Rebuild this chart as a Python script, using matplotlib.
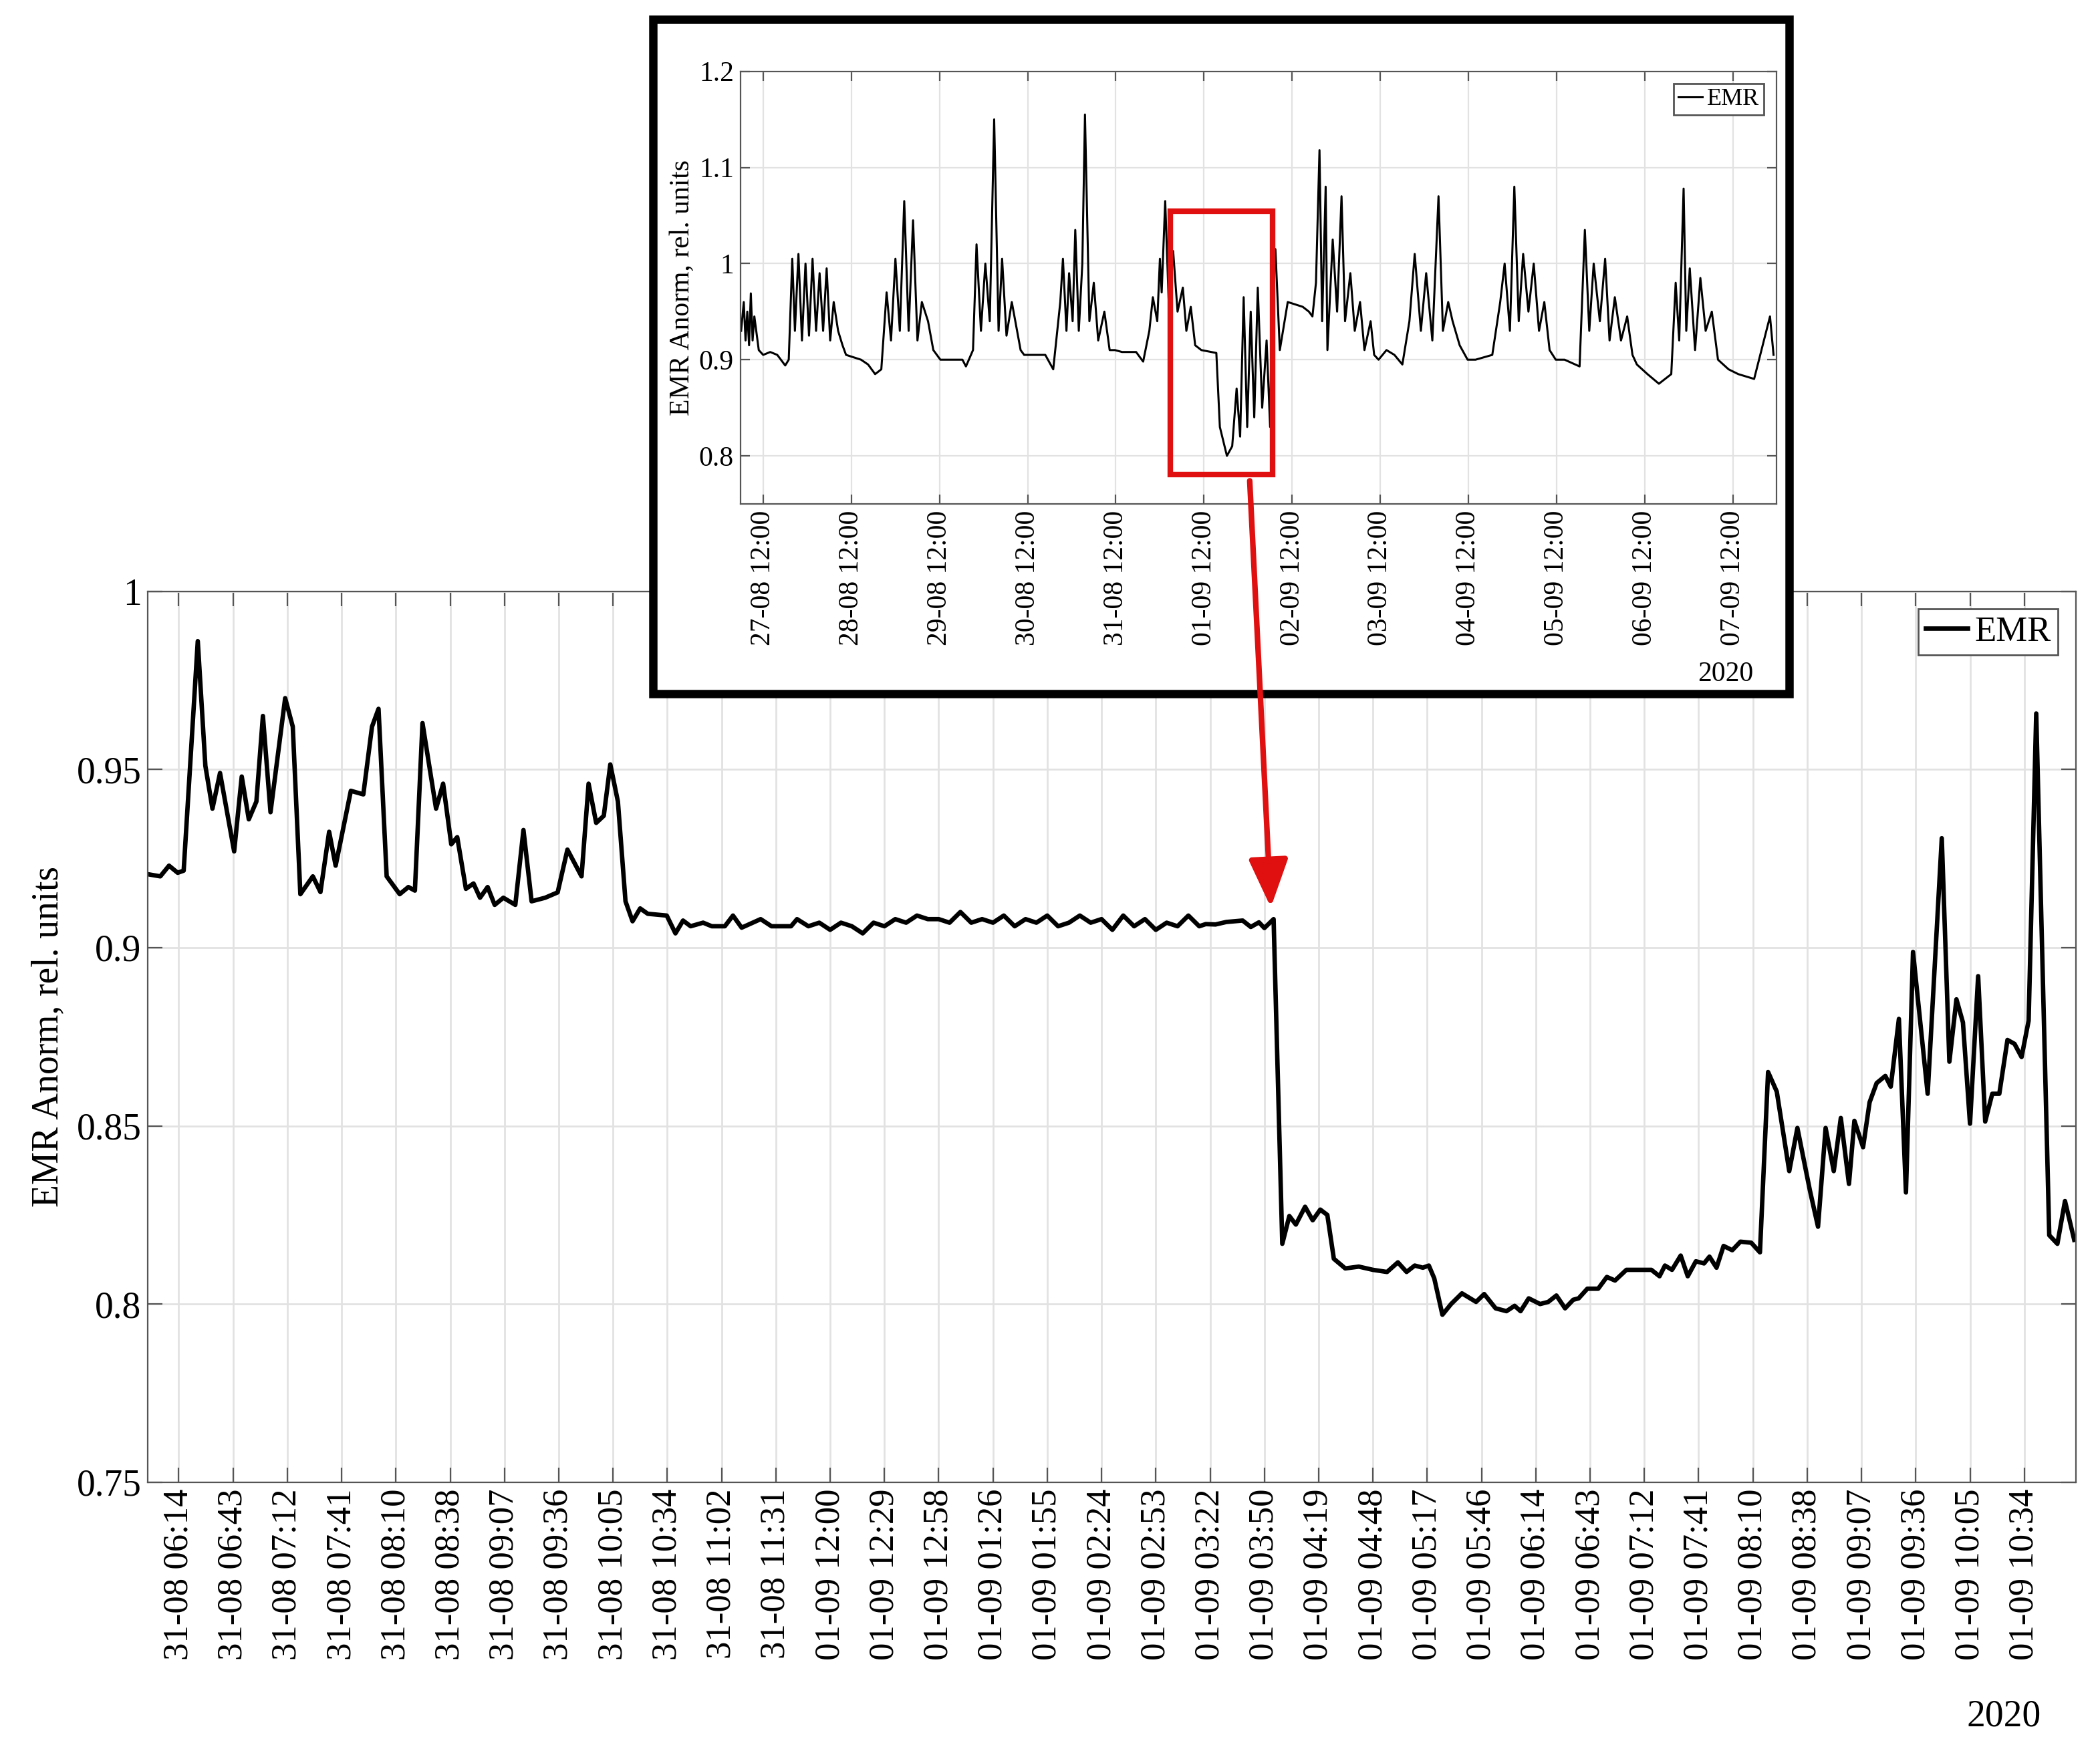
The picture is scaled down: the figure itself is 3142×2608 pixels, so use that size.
import numpy as np
import matplotlib.pyplot as plt
from matplotlib.patches import Rectangle, FancyArrowPatch

plt.rcParams['font.family'] = ['Liberation Serif', 'DejaVu Serif']

# Main panel: time in tick units (one unit = ~29 min), values in rel. units
main_u = [-0.57, -0.34, -0.18, -0.02, 0.09, 0.35, 0.49, 0.62, 0.76, 1.02, 1.16, 1.29, 1.43, 1.55,
          1.69, 1.96, 2.10, 2.24, 2.47, 2.61, 2.77, 2.89, 3.17, 3.40, 3.56, 3.68, 3.83, 4.07,
          4.23, 4.35, 4.49, 4.74, 4.87, 5.02, 5.13, 5.29, 5.43, 5.55, 5.69, 5.82, 5.98, 6.20,
          6.35, 6.50, 6.75, 6.98, 7.16, 7.42, 7.55, 7.69, 7.83, 7.95, 8.09, 8.23, 8.36, 8.50,
          8.64, 8.99, 9.15, 9.29, 9.43, 9.66, 9.82, 10.06, 10.21, 10.37, 10.72, 10.92, 11.28,
          11.39, 11.6, 11.8, 12.0, 12.2, 12.4, 12.6, 12.8, 13.0, 13.2, 13.4, 13.6, 13.8, 14.0,
          14.2, 14.4, 14.6, 14.8, 15.0, 15.2, 15.4, 15.6, 15.8, 16.0, 16.2, 16.4, 16.6, 16.8,
          17.0, 17.2, 17.4, 17.6, 17.8, 18.0, 18.2, 18.4, 18.6, 18.8, 18.92, 19.1, 19.3, 19.6,
          19.75, 19.9, 20.0, 20.17, 20.33, 20.46, 20.58, 20.75, 20.89, 21.03, 21.16, 21.28,
          21.49, 21.74, 22.0, 22.26, 22.46, 22.62, 22.77, 22.92, 23.03, 23.13, 23.28, 23.44,
          23.64, 23.9, 24.05, 24.26, 24.46, 24.61, 24.72, 24.87, 25.08, 25.23, 25.38, 25.54,
          25.69, 25.79, 25.95, 26.15, 26.31, 26.46, 26.67, 26.87, 27.13, 27.28, 27.38, 27.51,
          27.67, 27.8, 27.95, 28.1, 28.2, 28.33, 28.46, 28.62, 28.77, 28.97, 29.13, 29.28,
          29.44, 29.67, 29.82, 30.05, 30.2, 30.34, 30.49, 30.62, 30.77, 30.87, 31.03, 31.15,
          31.28, 31.44, 31.54, 31.69, 31.82, 31.95, 32.22, 32.48, 32.62, 32.75, 32.87, 33.0,
          33.15, 33.28, 33.41, 33.54, 33.69, 33.82, 33.95, 34.08, 34.22, 34.46, 34.61, 34.75,
          34.92]
main_y = [0.9206, 0.920, 0.923, 0.921, 0.9216, 0.986, 0.951, 0.939, 0.949, 0.927, 0.948, 0.936,
          0.941, 0.965, 0.938, 0.970, 0.962, 0.915, 0.920, 0.9156, 0.9325, 0.923, 0.944, 0.943,
          0.962, 0.967, 0.920, 0.915, 0.917, 0.916, 0.963, 0.939, 0.946, 0.929, 0.931, 0.9165,
          0.918, 0.914, 0.917, 0.912, 0.914, 0.912, 0.933, 0.913, 0.914, 0.9155, 0.9275, 0.920,
          0.946, 0.935, 0.937, 0.9514, 0.941, 0.913, 0.9074, 0.911, 0.9095, 0.909, 0.904,
          0.9076, 0.906, 0.907, 0.906, 0.906, 0.909, 0.9056, 0.908, 0.906, 0.906, 0.908,
          0.906, 0.907, 0.905, 0.907, 0.906, 0.904, 0.907, 0.906, 0.908, 0.907, 0.909, 0.908,
          0.908, 0.907, 0.910, 0.907, 0.908, 0.907, 0.909, 0.906, 0.908, 0.907, 0.909, 0.906,
          0.907, 0.909, 0.907, 0.908, 0.905, 0.909, 0.906, 0.908, 0.905, 0.907, 0.906, 0.909,
          0.906, 0.9066, 0.9065, 0.9072, 0.9076, 0.9058, 0.9071, 0.9055, 0.908, 0.8169, 0.8247,
          0.8223, 0.8273, 0.8235, 0.8265, 0.825, 0.8127, 0.810, 0.8105, 0.8096, 0.809, 0.8117,
          0.809, 0.8108, 0.8102, 0.8108, 0.8072, 0.797, 0.800, 0.803, 0.8006, 0.8028, 0.7988,
          0.798, 0.7995, 0.798, 0.8016, 0.800, 0.8006, 0.8024, 0.7988, 0.8012, 0.8016, 0.8043,
          0.8043, 0.8076, 0.8066, 0.8096, 0.8096, 0.8096, 0.8078, 0.8108, 0.8096, 0.8136,
          0.8078, 0.812, 0.8114, 0.8133, 0.8102, 0.8163, 0.8151, 0.8175, 0.8172, 0.8145,
          0.8651, 0.8596, 0.8373, 0.8494, 0.8319, 0.8217, 0.8494, 0.8373, 0.8522, 0.8337,
          0.8514, 0.844, 0.8566, 0.862, 0.864, 0.861, 0.880, 0.8313, 0.8988, 0.859, 0.9307,
          0.868, 0.8855, 0.879, 0.8506, 0.892, 0.8512, 0.859, 0.859, 0.8741, 0.873, 0.8693,
          0.8795, 0.9657, 0.8193, 0.8169, 0.8289, 0.818]

tick_labels = ['31-08 06:14', '31-08 06:43', '31-08 07:12', '31-08 07:41', '31-08 08:10',
               '31-08 08:38', '31-08 09:07', '31-08 09:36', '31-08 10:05', '31-08 10:34',
               '31-08 11:02', '31-08 11:31', '01-09 12:00', '01-09 12:29', '01-09 12:58',
               '01-09 01:26', '01-09 01:55', '01-09 02:24', '01-09 02:53', '01-09 03:22',
               '01-09 03:50', '01-09 04:19', '01-09 04:48', '01-09 05:17', '01-09 05:46',
               '01-09 06:14', '01-09 06:43', '01-09 07:12', '01-09 07:41', '01-09 08:10',
               '01-09 08:38', '01-09 09:07', '01-09 09:36', '01-09 10:05', '01-09 10:34']

# Inset: days since 27-08 12:00
inset_d = [-0.25, -0.22, -0.2, -0.18, -0.16, -0.14, -0.12, -0.1, -0.05, 0.0, 0.08, 0.16, 0.25,
           0.29, 0.33, 0.36, 0.4, 0.44, 0.48, 0.52, 0.56, 0.6, 0.64, 0.68, 0.72, 0.76, 0.8,
           0.85, 0.9, 0.94, 1.11, 1.19, 1.27, 1.34, 1.4, 1.45, 1.5, 1.55, 1.6, 1.65, 1.7, 1.75,
           1.8, 1.87, 1.93, 1.97, 2.01, 2.26, 2.3, 2.38, 2.42, 2.47, 2.52, 2.57, 2.62, 2.67,
           2.71, 2.76, 2.82, 2.88, 2.92, 2.96, 3.2, 3.29, 3.37, 3.4, 3.44, 3.47, 3.51, 3.54,
           3.58, 3.62, 3.65, 3.7, 3.75, 3.8, 3.87, 3.93, 3.99, 4.07, 4.23, 4.31, 4.38, 4.42,
           4.47, 4.5, 4.52, 4.56, 4.6, 4.65, 4.7, 4.76, 4.8, 4.85, 4.9, 4.97, 5.14, 5.18, 5.26,
           5.32, 5.37, 5.41, 5.45, 5.49, 5.53, 5.57, 5.61, 5.66, 5.71, 5.75, 5.77, 5.81, 5.86,
           5.95, 6.12, 6.19, 6.23, 6.27, 6.31, 6.34, 6.38, 6.40, 6.46, 6.51, 6.56, 6.60, 6.66,
           6.71, 6.77, 6.82, 6.89, 6.93, 6.98, 7.07, 7.16, 7.25, 7.33, 7.39, 7.46, 7.52, 7.59,
           7.66, 7.71, 7.77, 7.82, 7.90, 7.99, 8.08, 8.27, 8.36, 8.41, 8.47, 8.52, 8.57, 8.62,
           8.68, 8.74, 8.80, 8.86, 8.92, 8.99, 9.09, 9.26, 9.32, 9.37, 9.42, 9.49, 9.55, 9.60,
           9.66, 9.73, 9.80, 9.86, 9.91, 10.03, 10.16, 10.30, 10.35, 10.39, 10.44, 10.47,
           10.51, 10.57, 10.63, 10.69, 10.76, 10.83, 10.95, 11.06, 11.24, 11.42, 11.46]
inset_y = [0.93, 0.96, 0.92, 0.95, 0.915, 0.969, 0.92, 0.945, 0.91, 0.905, 0.908, 0.905, 0.894,
           0.90, 1.005, 0.93, 1.01, 0.92, 1.0, 0.925, 1.005, 0.93, 0.99, 0.93, 0.995, 0.92,
           0.96, 0.93, 0.915, 0.905, 0.90, 0.895, 0.885, 0.89, 0.97, 0.92, 1.005, 0.93, 1.065,
           0.93, 1.045, 0.92, 0.96, 0.94, 0.91, 0.905, 0.90, 0.90, 0.893, 0.91, 1.02, 0.93,
           1.0, 0.94, 1.15, 0.93, 1.005, 0.925, 0.96, 0.93, 0.91, 0.905, 0.905, 0.89, 0.96,
           1.005, 0.93, 0.99, 0.94, 1.035, 0.93, 1.0, 1.155, 0.94, 0.98, 0.92, 0.95, 0.91, 0.91,
           0.908, 0.908, 0.898, 0.93, 0.965, 0.94, 1.005, 0.97, 1.065, 0.96, 1.013, 0.95,
           0.975, 0.93, 0.955, 0.915, 0.91, 0.907, 0.83, 0.80, 0.81, 0.87, 0.82, 0.965, 0.83,
           0.95, 0.84, 0.975, 0.85, 0.92, 0.83, 0.96, 1.015, 0.91, 0.96, 0.955, 0.95, 0.945,
           0.98, 1.118, 0.94, 1.08, 0.91, 1.025, 0.95, 1.07, 0.94, 0.99, 0.93, 0.96, 0.91, 0.94,
           0.905, 0.90, 0.91, 0.905, 0.895, 0.94, 1.01, 0.93, 0.99, 0.92, 1.07, 0.93, 0.96,
           0.94, 0.915, 0.90, 0.90, 0.905, 0.96, 1.0, 0.93, 1.08, 0.94, 1.01, 0.95, 1.0, 0.93,
           0.96, 0.91, 0.90, 0.90, 0.893, 1.035, 0.93, 1.0, 0.94, 1.005, 0.92, 0.965, 0.92,
           0.945, 0.905, 0.895, 0.885, 0.875, 0.885, 0.98, 0.92, 1.078, 0.93, 0.995, 0.91,
           0.985, 0.93, 0.95, 0.90, 0.89, 0.885, 0.88, 0.945, 0.905]
inset_labels = ['27-08 12:00', '28-08 12:00', '29-08 12:00', '30-08 12:00', '31-08 12:00',
                '01-09 12:00', '02-09 12:00', '03-09 12:00', '04-09 12:00', '05-09 12:00',
                '06-09 12:00', '07-09 12:00']

fig = plt.figure(figsize=(15.71, 13.04), dpi=200)

# main panel
ax = fig.add_axes([0.0704, 0.1496, 0.9181, 0.5112])
ax.plot(main_u, main_y, color='black', lw=2.4, label='EMR')
ax.set_xlim(-0.57, 34.95)
ax.set_ylim(0.75, 1.0)
ax.set_xticks(range(len(tick_labels)))
ax.set_xticklabels(tick_labels, rotation=90, fontsize=19)
ax.set_yticks([0.75, 0.8, 0.85, 0.9, 0.95, 1.0])
ax.set_yticklabels(['0.75', '0.8', '0.85', '0.9', '0.95', '1'], fontsize=20)
ax.set_ylabel('EMR Anorm, rel. units', fontsize=20, labelpad=6)
ax.grid(True, color='#e2e2e2', lw=1)
ax.tick_params(direction='in', top=True, right=True, length=8, color='#555555')
for s in ax.spines.values():
    s.set_color('#555555')
ax.legend(loc='upper right', fontsize=19, handlelength=1.2, handletextpad=0.2,
          borderpad=0.2, fancybox=False, edgecolor='#555555', framealpha=1)
fig.text(0.972, 0.005, '2020', ha='right', va='bottom', fontsize=20)

# black frame around inset
fig.patches.append(Rectangle((0.311, 0.602), 0.541, 0.387, transform=fig.transFigure,
                             facecolor='white', edgecolor='black', lw=4.5, zorder=1))

ax2 = fig.add_axes([0.3525, 0.7109, 0.4933, 0.2482], zorder=2)
ax2.plot(inset_d, inset_y, color='black', lw=1.1, label='EMR')
ax2.set_xlim(-0.26, 11.49)
ax2.set_ylim(0.75, 1.2)
ax2.set_xticks(range(len(inset_labels)))
ax2.set_xticklabels(inset_labels, rotation=90, fontsize=15)
ax2.set_yticks([0.8, 0.9, 1.0, 1.1, 1.2])
ax2.set_yticklabels(['0.8', '0.9', '1', '1.1', '1.2'], fontsize=15)
ax2.set_ylabel('EMR Anorm, rel. units', fontsize=15, labelpad=2)
ax2.grid(True, color='#e2e2e2', lw=0.8)
ax2.tick_params(direction='in', top=True, right=True, length=5, color='#555555')
for s in ax2.spines.values():
    s.set_color('#555555')
ax2.legend(loc='upper right', fontsize=13, handlelength=1.0, handletextpad=0.2,
           borderpad=0.2, fancybox=False, edgecolor='#555555', framealpha=1)
fig.text(0.835, 0.606, '2020', ha='right', va='bottom', fontsize=15, zorder=3)

# red box around the zoomed window and arrow to the main panel
ax2.add_patch(Rectangle((4.62, 0.7804), 1.16, 0.2741, facecolor='none', edgecolor='#e01010',
                        lw=3, zorder=5, clip_on=False))
fig.add_artist(FancyArrowPatch(
    (930 / 1563, 1 - 355 / 1297), (946 / 1563, 1 - 678 / 1297), transform=fig.transFigure,
    arrowstyle='-|>,head_length=11,head_width=4.5', color='#e01010', lw=3, zorder=6,
    mutation_scale=2))

fig.savefig('out.png')
